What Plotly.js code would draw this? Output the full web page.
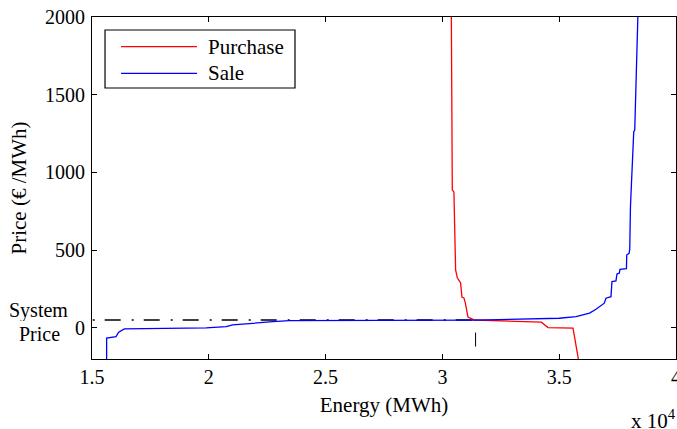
<!DOCTYPE html>
<html>
<head>
<meta charset="utf-8">
<script src="https://cdn.plot.ly/plotly-3.0.1.min.js"></script>
<style>html,body{margin:0;padding:0;background:#fff;}#chart{width:677px;height:429px;}</style>
</head>
<body>
<div id="chart"></div>
<script>
// Purchase (demand) curve: energy in MWh, price in €/MWh
const purchaseEnergy = [30381, 30424, 30493, 30536, 30566, 30638, 30780, 30835, 30921, 30981, 31050, 31093, 31166, 31380, 34237, 34520, 35591, 35878];
const purchasePrice  = [2050,  887,   875,   502,   373,   322,   289,   199,   193,   161,   96,    71,    64,    51,    37,    2,     -2,    -250];

// Sale (supply) curve
const saleEnergy = [15626, 15626, 16028, 16140, 16384, 19884, 20741, 21024, 22738, 23453, 31380, 33000, 35000, 35717, 36300, 36574, 36929, 37002, 37216, 37259, 37430, 37473, 37572, 37602, 37879, 37891, 37990, 38020, 38050, 38191, 38234, 38376];
const salePrice  = [-250,  -66,   -56,   -28,   -6,    0,     8,     19,    40,    47,    50,    54,    62,    73,    95,    120,   159,   191,   201,   298,   302,   347,   352,   377,   381,   469,   480,   506,   780,   1262,  1273,  2050];

// System (clearing) price and energy
const systemPrice = 51;
const systemEnergy = 31420;
const systemLineEnergy = [13874, systemEnergy];
const systemMarkerPrice = [-30, -120];

// Series names / colours
const seriesNames = ['Purchase', 'Sale'];
const seriesColors = ['#ff0000', '#0000ff'];

// Axis ticks
const xTickVals = [15000, 20000, 25000, 30000, 35000, 40000];
const xTickText = ['1.5', '2', '2.5', '3', '3.5', '4'];
const yTickVals = [0, 500, 1000, 1500, 2000];

const fam = '"Liberation Serif"';
const font = {family: fam, size: 21, color: '#000'};
const tickFont = {family: fam, size: 20, color: '#000'};
const sideFont = {family: fam, size: 20, color: '#000'};

const traces = [
  {x: systemLineEnergy, y: systemLineEnergy.map(() => systemPrice), mode: 'lines', showlegend: false,
   line: {color: '#000', width: 1.6, dash: '16px,11px,2px,10px'}, hoverinfo: 'skip'},
  {x: [systemEnergy, systemEnergy], y: systemMarkerPrice, mode: 'lines', showlegend: false,
   line: {color: '#000', width: 1}, hoverinfo: 'skip'},
  {x: purchaseEnergy, y: purchasePrice, mode: 'lines', name: seriesNames[0], line: {color: seriesColors[0], width: 1.3}},
  {x: saleEnergy, y: salePrice, mode: 'lines', name: seriesNames[1], line: {color: seriesColors[1], width: 1.3}}
];

const axisCommon = {showline: true, mirror: 'ticks', linecolor: '#000', linewidth: 1, ticks: 'inside', ticklen: 5,
  tickcolor: '#000', tickwidth: 1, showgrid: false, zeroline: false, tickfont: tickFont, ticklabeloverflow: 'allow'};

// Legend box drawn in paper coordinates (MATLAB-style legend)
const legendBox = {x0: 0.0223, x1: 0.3476, y0: 0.7924, y1: 0.962};
const legendRowsY = [0.9132, 0.8354];
const legendLineX = [0.0497, 0.1798];
const legendTextX = 0.1952;

const shapes = [
  {type: 'rect', xref: 'paper', yref: 'paper', x0: legendBox.x0, x1: legendBox.x1, y0: legendBox.y0, y1: legendBox.y1,
   line: {color: '#000', width: 1.2}, fillcolor: '#fff', layer: 'above'}
];
const annotations = [
  {text: 'System', xref: 'paper', yref: 'paper', x: -0.092, y: 0.1404, xanchor: 'center', yanchor: 'middle',
   showarrow: false, font: sideFont, height: 21},
  {text: 'Price', xref: 'paper', yref: 'paper', x: -0.09, y: 0.076, xanchor: 'center', yanchor: 'middle',
   showarrow: false, font: sideFont, height: 21},
  {text: 'x 10<sup>4</sup>', xref: 'paper', yref: 'paper', x: 0.962, y: -0.178, xanchor: 'center', yanchor: 'middle',
   showarrow: false, font: font}
];
seriesNames.forEach((name, i) => {
  shapes.push({type: 'line', xref: 'paper', yref: 'paper', x0: legendLineX[0], x1: legendLineX[1],
    y0: legendRowsY[i], y1: legendRowsY[i], line: {color: seriesColors[i], width: 1.3}, layer: 'above'});
  annotations.push({text: name, xref: 'paper', yref: 'paper', x: legendTextX, y: legendRowsY[i],
    xanchor: 'left', yanchor: 'middle', showarrow: false, font: font});
});

const layout = {
  width: 677, height: 429,
  margin: {l: 92, r: 1, t: 17, b: 70},
  paper_bgcolor: '#fff', plot_bgcolor: '#fff',
  font: font,
  showlegend: false,
  xaxis: Object.assign({}, axisCommon, {range: [15000, 40000], tickmode: 'array', tickvals: xTickVals, ticktext: xTickText,
    title: {text: 'Energy (MWh)', font: font, standoff: 10}}),
  yaxis: Object.assign({}, axisCommon, {range: [-200, 2000], tickmode: 'array', tickvals: yTickVals,
    ticklabelstandoff: 2, title: {text: 'Price (€ /MWh)', font: font, standoff: 12}}),
  shapes: shapes,
  annotations: annotations
};

Plotly.newPlot('chart', traces, layout, {displayModeBar: false, staticPlot: true});
</script>
</body>
</html>
